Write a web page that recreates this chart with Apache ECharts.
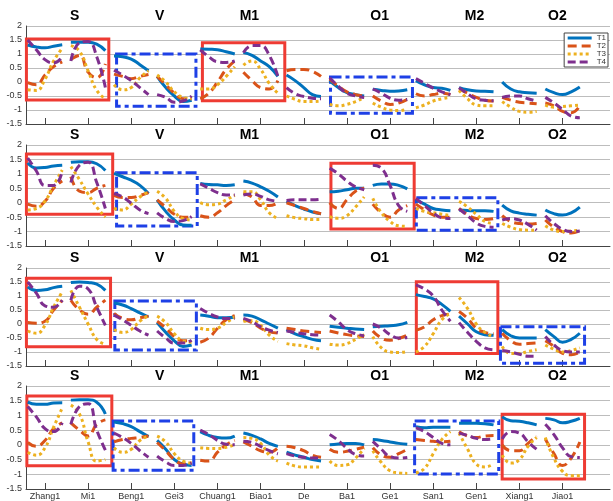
<!DOCTYPE html>
<html><head><meta charset="utf-8">
<script src="https://cdn.jsdelivr.net/npm/echarts@6/dist/echarts.min.js"></script>
<style>html,body{margin:0;padding:0;background:#fff}#c{width:613px;height:501px}</style>
</head><body><div id="c"></div>
<script>
const words = ['Zhang1','Mi1','Beng1','Gei3','Chuang1','Biao1','De','Ba1','Ge1','San1','Gen1','Xiang1','Jiao1'];
const wordPos = [1,2,3,4,5,6,7,8,9,10,11,12,13];
const groupNames = ['S','V','M1','O1','M2','O2'];
const groupPos = [1.69, 3.66, 5.74, 8.76, 10.96, 12.88];
const seriesNames = ['T1','T2','T3','T4'];
const sampleOffsets = [-0.4,-0.2,0,0.2,0.4];

// Panel 1
const p1_T1 = [[1.32,1.25,1.22,1.28,1.33],[1.42,1.42,1.42,1.35,1.12],[0.93,0.9,0.82,0.62,0.4],[0.2,-0.2,-0.5,-0.7,-0.65],[1.18,1.17,1.15,1.08,1.0],[1.05,0.95,0.75,0.55,0.2],[0.25,0.05,-0.2,-0.45,-0.52],[0.05,-0.2,-0.38,-0.45,-0.5],[-0.26,-0.3,-0.33,-0.32,-0.28],[0.05,-0.1,-0.2,-0.22,-0.3],[-0.2,-0.28,-0.32,-0.33,-0.35],[0.0,-0.25,-0.35,-0.38,-0.4],[-0.25,-0.38,-0.45,-0.35,-0.18]];
const p1_T2 = [[-0.02,-0.1,0.25,0.55,0.72],[0.8,0.95,0.35,0.15,0.65],[0.28,0.2,0.12,0.2,0.27],[0.2,-0.1,-0.4,-0.6,-0.6],[-0.6,-0.4,0.0,0.45,0.75],[0.35,0.05,-0.2,-0.25,0.05],[0.4,0.45,0.45,0.38,0.2],[0.1,-0.15,-0.35,-0.45,-0.5],[-0.5,-0.68,-0.8,-0.75,-0.62],[-0.42,-0.5,-0.45,-0.4,-0.45],[-0.25,-0.4,-0.55,-0.65,-0.68],[-0.55,-0.65,-0.72,-0.75,-0.78],[-0.75,-0.85,-1.05,-1.1,-0.85]];
const p1_T3 = [[-0.28,-0.3,0.1,0.75,1.2],[1.3,1.1,0.4,-0.3,-0.6],[-0.1,-0.28,-0.2,0.15,0.4],[0.25,0.0,-0.35,-0.55,-0.6],[-0.25,-0.25,-0.1,0.2,0.55],[0.6,0.75,0.45,-0.05,-0.4],[-0.5,-0.62,-0.7,-0.7,-0.68],[-0.8,-0.85,-0.8,-0.7,-0.55],[-0.75,-0.9,-1.0,-1.02,-0.97],[-0.92,-0.82,-0.68,-0.6,-0.55],[-0.3,-0.6,-0.82,-0.85,-0.85],[-0.7,-0.9,-1.05,-1.08,-1.05],[-0.82,-0.9,-0.88,-0.85,-0.82]];
const p1_T4 = [[1.5,1.15,0.8,0.68,0.9],[0.75,1.4,1.45,0.9,-0.2],[0.42,0.25,0.05,-0.2,-0.45],[-0.45,-0.55,-0.72,-0.68,-0.5],[1.15,0.9,0.72,0.7,0.75],[1.05,1.3,1.3,0.95,0.2],[-0.2,-0.42,-0.52,-0.58,-0.6],[0.15,-0.15,-0.4,-0.5,-0.55],[-0.25,-0.4,-0.58,-0.65,-0.62],[0.12,-0.05,-0.22,-0.35,-0.45],[-0.2,-0.42,-0.6,-0.65,-0.67],[-0.55,-0.5,-0.5,-0.6,-0.68],[-0.55,-0.75,-0.98,-1.22,-1.28]];

// Panel 2
const p2_T1 = [[1.38,1.2,1.22,1.27,1.3],[1.4,1.42,1.42,1.35,1.12],[1.02,0.9,0.78,0.6,0.32],[0.1,-0.3,-0.6,-0.77,-0.78],[0.67,0.63,0.62,0.6,0.62],[0.75,0.68,0.55,0.4,0.2],[0.05,-0.1,-0.22,-0.32,-0.38],[0.38,0.4,0.45,0.5,0.5],[0.6,0.65,0.65,0.6,0.48],[0.1,-0.05,-0.2,-0.25,-0.28],[-0.25,-0.27,-0.28,-0.28,-0.3],[-0.08,-0.28,-0.36,-0.4,-0.43],[-0.25,-0.38,-0.43,-0.35,-0.15]];
const p2_T2 = [[-0.05,-0.12,0.05,0.5,0.75],[0.9,0.4,0.35,0.5,0.6],[0.25,0.18,0.18,0.25,0.35],[0.1,-0.15,-0.4,-0.5,-0.5],[-0.45,-0.5,-0.35,-0.1,0.1],[0.32,0.2,-0.1,-0.1,0.0],[0.0,-0.1,-0.2,-0.3,-0.38],[0.0,-0.2,0.1,0.4,0.5],[-0.05,-0.35,-0.5,-0.25,-0.1],[-0.05,-0.25,-0.42,-0.5,-0.5],[-0.2,-0.42,-0.55,-0.58,-0.55],[-0.45,-0.65,-0.72,-0.74,-0.72],[-0.6,-0.85,-1.0,-1.05,-0.97]];
const p2_T3 = [[-0.25,-0.2,0.05,0.6,1.13],[1.25,0.8,0.3,-0.15,-0.5],[-0.2,-0.25,-0.05,0.2,0.38],[0.4,0.15,-0.3,-0.55,-0.6],[0.0,-0.07,-0.05,0.1,0.25],[0.38,0.38,0.1,-0.35,-0.55],[-0.45,-0.52,-0.55,-0.58,-0.58],[-0.48,-0.54,-0.45,-0.15,0.2],[0.15,-0.35,-0.65,-0.8,-0.82],[-0.2,-0.3,-0.35,-0.4,-0.45],[0.05,-0.15,-0.4,-0.65,-0.72],[-0.72,-0.85,-0.93,-0.95,-0.95],[-0.8,-0.95,-1.0,-0.98,-0.95]];
const p2_T4 = [[1.55,1.1,0.6,0.6,1.1],[0.7,1.3,1.4,0.7,-0.2],[0.32,0.2,-0.02,-0.25,-0.38],[-0.35,-0.55,-0.65,-0.62,-0.48],[0.65,0.5,0.35,0.27,0.27],[0.27,0.3,0.22,0.1,0.05],[0.08,0.1,0.1,0.1,0.12],[1.2,1.0,0.75,0.55,0.45],[1.3,1.2,0.6,-0.1,-0.3],[0.15,-0.1,-0.35,-0.52,-0.55],[-0.22,-0.45,-0.7,-0.82,-0.85],[-0.6,-0.55,-0.6,-0.75,-0.95],[-0.45,-0.72,-0.92,-1.0,-0.98]];

// Panel 3
const p3_T1 = [[1.33,1.2,1.22,1.3,1.35],[1.48,1.5,1.48,1.42,1.2],[0.75,0.68,0.55,0.4,0.25],[0.05,-0.3,-0.6,-0.8,-0.75],[0.32,0.28,0.22,0.22,0.25],[0.32,0.28,0.15,0.0,-0.15],[-0.2,-0.35,-0.45,-0.55,-0.6],[-0.08,-0.12,-0.15,-0.18,-0.2],[-0.1,-0.08,-0.06,-0.03,0.06],[1.05,0.98,0.9,0.7,0.45],[0.28,0.0,-0.28,-0.38,-0.4],[-0.2,-0.42,-0.5,-0.5,-0.5],[-0.2,-0.45,-0.65,-0.55,-0.33]];
const p3_T2 = [[0.05,0.03,0.1,0.5,0.85],[0.85,0.5,0.35,0.6,0.85],[0.38,0.2,0.15,0.22,0.28],[0.1,-0.15,-0.45,-0.6,-0.6],[-0.65,-0.5,-0.15,0.15,0.3],[0.15,0.05,-0.15,-0.28,-0.32],[-0.15,-0.2,-0.25,-0.28,-0.3],[-0.25,-0.32,-0.38,-0.42,-0.45],[-0.25,-0.5,-0.58,-0.52,-0.4],[-0.22,-0.1,0.15,0.3,0.35],[0.45,0.2,-0.15,-0.3,-0.35],[-0.33,-0.6,-0.72,-0.7,-0.68],[-0.6,-0.8,-1.05,-1.1,-1.0]];
const p3_T3 = [[-0.25,-0.33,-0.05,0.6,1.15],[1.2,0.6,0.0,-0.55,-0.72],[-0.2,-0.3,-0.2,0.1,0.3],[0.28,0.05,-0.35,-0.6,-0.65],[-0.15,-0.2,-0.15,0.05,0.25],[0.1,0.12,-0.05,-0.4,-0.62],[-0.7,-0.75,-0.78,-0.85,-0.9],[-0.72,-0.75,-0.7,-0.55,-0.38],[-0.45,-0.85,-1.0,-1.02,-0.98],[-1.0,-0.8,-0.35,0.15,0.38],[0.95,0.55,0.0,-0.3,-0.45],[-0.8,-1.05,-1.05,-0.98,-0.92],[-0.75,-0.9,-1.0,-0.95,-0.85]];
const p3_T4 = [[1.5,1.1,0.65,0.6,0.85],[0.85,1.35,1.25,0.6,-0.05],[0.32,0.15,-0.05,-0.25,-0.4],[-0.25,-0.5,-0.68,-0.68,-0.58],[0.55,0.38,0.25,0.2,0.2],[0.2,0.08,-0.1,-0.22,-0.3],[-0.25,-0.3,-0.35,-0.38,-0.4],[0.32,0.08,-0.2,-0.35,-0.42],[0.0,-0.15,-0.38,-0.5,-0.48],[1.4,1.25,1.0,0.5,0.1],[0.05,-0.3,-0.62,-0.85,-0.92],[-0.95,-1.0,-1.08,-1.15,-1.15],[-0.45,-0.75,-0.95,-1.0,-1.0]];

// Panel 4
const p4_T1 = [[1.45,1.38,1.38,1.42,1.43],[1.52,1.53,1.53,1.45,1.05],[0.78,0.72,0.62,0.45,0.28],[0.15,-0.15,-0.5,-0.65,-0.7],[0.45,0.32,0.25,0.23,0.3],[0.4,0.32,0.2,0.05,-0.05],[-0.25,-0.35,-0.42,-0.5,-0.55],[0.0,0.03,0.05,0.05,0.0],[0.18,0.15,0.1,0.05,0.02],[0.62,0.58,0.6,0.6,0.6],[0.73,0.73,0.73,0.72,0.68],[0.95,0.82,0.8,0.75,0.68],[0.9,0.85,0.75,0.8,0.9]];
const p4_T2 = [[0.08,-0.05,0.15,0.55,0.75],[0.75,0.5,0.3,0.7,0.85],[0.1,0.18,0.22,0.25,0.3],[0.08,-0.2,-0.5,-0.65,-0.6],[-0.52,-0.55,-0.25,0.0,0.15],[0.1,-0.05,-0.2,-0.25,-0.1],[-0.05,-0.1,-0.2,-0.35,-0.42],[-0.15,-0.25,-0.22,-0.15,-0.08],[-0.1,-0.35,-0.42,-0.3,-0.15],[0.18,0.15,0.12,0.1,0.12],[0.45,0.3,0.25,0.3,0.32],[0.0,-0.2,-0.2,0.05,0.3],[0.2,-0.3,-0.7,-0.45,0.1]];
const p4_T3 = [[-0.25,-0.35,-0.1,0.6,1.25],[1.35,1.05,0.1,-0.55,-0.5],[-0.1,-0.25,-0.15,0.15,0.3],[0.3,0.1,-0.3,-0.55,-0.62],[-0.1,-0.12,-0.12,-0.08,0.0],[0.25,0.22,0.05,-0.35,-0.55],[-0.62,-0.72,-0.75,-0.75,-0.75],[-0.55,-0.7,-0.68,-0.45,-0.12],[-0.2,-0.6,-0.88,-0.95,-0.97],[-0.95,-0.8,-0.3,0.18,0.45],[0.4,-0.15,-0.65,-0.75,-0.65],[-0.35,-0.62,-0.5,-0.05,0.25],[0.25,-0.45,-0.9,-1.05,-1.05]];
const p4_T4 = [[1.3,0.95,0.55,0.45,0.75],[0.7,1.3,1.4,0.5,-0.18],[0.4,0.25,0.05,-0.2,-0.42],[-0.38,-0.58,-0.7,-0.7,-0.62],[0.5,0.35,0.15,0.02,0.0],[0.12,0.08,-0.05,-0.2,-0.3],[-0.3,-0.38,-0.42,-0.45,-0.45],[0.35,0.15,-0.12,-0.33,-0.38],[0.12,-0.15,-0.4,-0.45,-0.43],[0.58,0.45,0.25,0.05,0.0],[0.4,0.32,0.22,0.18,0.2],[0.2,0.45,0.4,0.1,-0.15],[0.7,0.35,-0.1,-0.4,-0.43]];

// Highlight boxes: [kind, xFrom, xTo, yTop, yBottom]
const p1_boxes = [['red',0.57,2.48,1.54,-0.64],['blue',2.66,4.5,1.0,-0.87],['red',4.65,6.56,1.4,-0.67],['blue',7.62,9.52,0.18,-1.12]];
const p2_boxes = [['red',0.57,2.57,1.69,-0.4],['blue',2.66,4.53,1.04,-0.81],['red',7.63,9.56,1.37,-0.91],['blue',9.61,11.5,0.17,-0.95]];
const p3_boxes = [['red',0.57,2.52,1.63,-0.81],['blue',2.62,4.51,0.82,-0.93],['red',9.61,11.5,1.51,-1.05],['blue',11.56,13.51,-0.1,-1.4]];
const p4_boxes = [['red',0.58,2.55,1.66,-0.71],['blue',2.58,4.45,0.81,-0.86],['blue',9.57,11.52,0.81,-0.99],['red',11.6,13.51,1.04,-1.16]];

const panels = [
  {series:[p1_T1,p1_T2,p1_T3,p1_T4], boxes:p1_boxes},
  {series:[p2_T1,p2_T2,p2_T3,p2_T4], boxes:p2_boxes},
  {series:[p3_T1,p3_T2,p3_T3,p3_T4], boxes:p3_boxes},
  {series:[p4_T1,p4_T2,p4_T3,p4_T4], boxes:p4_boxes}
];

const gridLayout = [{top:26,height:98},{top:145,height:101},{top:268,height:98},{top:386,height:106}];
const colors = ['#0072BD','#D95319','#EDB120','#7E2F8E'];
const dashes = ['solid',[9,5],[3,3],[8,4]];
const boxStyle = {
  red: {color:'rgba(0,0,0,0)', borderColor:'#EE3B33', borderWidth:3, borderType:'solid'},
  blue:{color:'rgba(0,0,0,0)', borderColor:'#1E40E6', borderWidth:3, borderType:[11,4,4,4]}
};
const XMIN = 0.56, XMAX = 14.1;

function buildLine(segs){
  const out = [];
  segs.forEach((vals, i) => {
    vals.forEach((v, j) => out.push([wordPos[i] + sampleOffsets[j], v]));
    out.push([wordPos[i] + 0.5, '-']);
  });
  return out;
}

const grid = [], xAxis = [], yAxis = [], series = [];
panels.forEach((p, k) => {
  grid.push({left:26, right:3, top:gridLayout[k].top, height:gridLayout[k].height, containLabel:false});
  xAxis.push({
    type:'value', gridIndex:k, min:XMIN, max:XMAX, position:'bottom',
    axisLine:{show:true, onZero:false, lineStyle:{color:'#444', width:1}},
    axisTick:{show:true, inside:true, length:6, customValues:wordPos, lineStyle:{color:'#444'}},
    axisLabel:{show:k===3, customValues:wordPos, formatter:v=>words[Math.round(v)-1], fontSize:9, color:'#333', margin:3, fontFamily:'Liberation Sans, Arial, sans-serif'},
    splitLine:{show:false}
  });
  xAxis.push({
    type:'value', gridIndex:k, min:XMIN, max:XMAX, position:'top',
    axisLine:{show:false}, axisTick:{show:false}, splitLine:{show:false},
    axisLabel:{show:true, customValues:groupPos, formatter:v=>groupNames[groupPos.indexOf(v)], fontSize:14, fontWeight:'bold', color:'#000', margin:3, fontFamily:'Liberation Sans, Arial, sans-serif'}
  });
  yAxis.push({
    type:'value', gridIndex:k, min:-1.5, max:2, interval:0.5,
    axisLine:{show:true, lineStyle:{color:'#444', width:1}},
    axisTick:{show:false},
    axisLabel:{fontSize:9, color:'#333', margin:4, fontFamily:'Liberation Sans, Arial, sans-serif', formatter:v=>String(v)},
    splitLine:{show:true, lineStyle:{color:'#bdbdbd', width:1}}
  });
  p.series.forEach((segs, j) => {
    const s = {
      name: seriesNames[j], type:'line', xAxisIndex:2*k, yAxisIndex:k,
      data: buildLine(segs), smooth:0.5, symbol:'none', showSymbol:false, connectNulls:false,
      lineStyle:{color:colors[j], width:3, type:dashes[j]},
      itemStyle:{color:colors[j]}, z:3+j, animation:false
    };
    if (j === 0) {
      s.markArea = {
        silent:true, z:1,
        data: p.boxes.map(b => [
          {coord:[b[1], b[3]], itemStyle: boxStyle[b[0]]},
          {coord:[b[2], b[4]]}
        ])
      };
    }
    series.push(s);
  });
});

const chart = echarts.init(document.getElementById('c'), null, {renderer:'canvas'});
chart.setOption({
  animation:false,
  backgroundColor:'#fff',
  grid, xAxis, yAxis, series,
  legend:{
    data:seriesNames, orient:'vertical', right:5, top:33,
    itemWidth:24, itemHeight:6, itemGap:0, padding:[1,2,1,2],
    borderColor:'#444', borderWidth:1, backgroundColor:'#fff',
    itemStyle:{opacity:0, borderWidth:0},
    lineStyle:{width:3},
    textStyle:{fontSize:8, color:'#333', lineHeight:6, fontFamily:'Liberation Sans, Arial, sans-serif'},
    selectedMode:false
  }
});
</script></body></html>
